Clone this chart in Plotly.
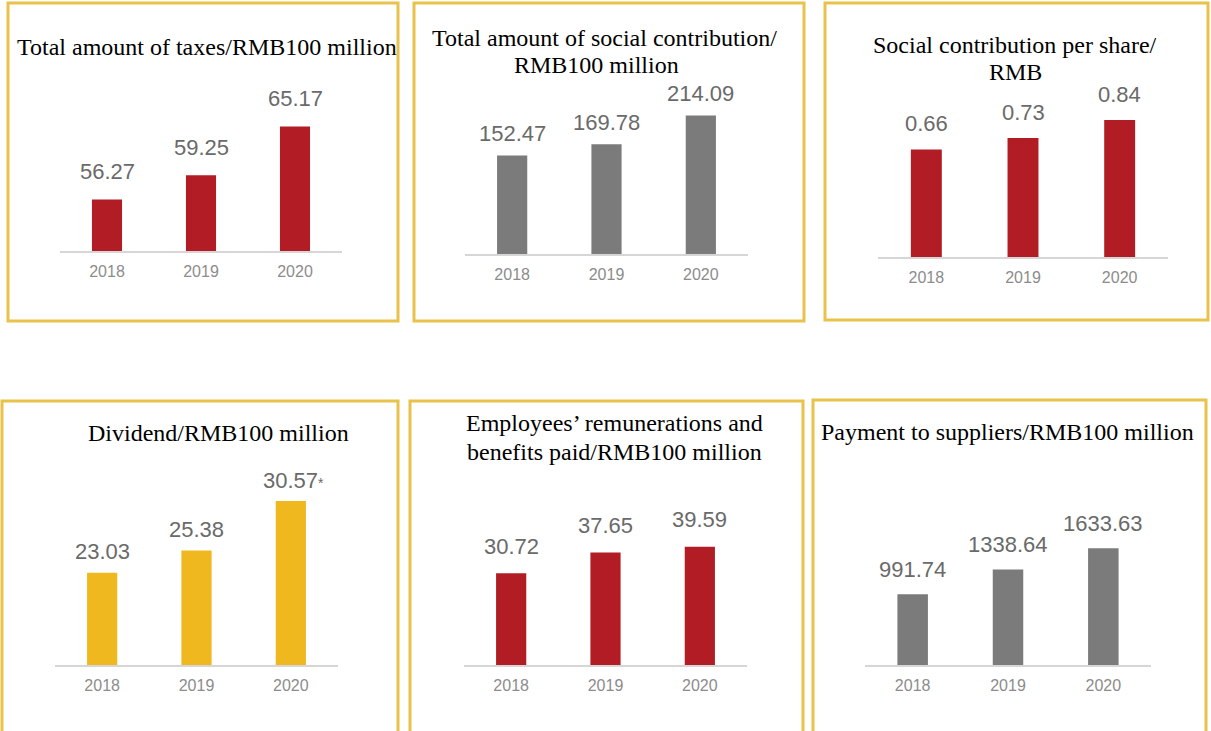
import plotly.graph_objects as go

# ---- data -------------------------------------------------------------
years = ["2018", "2019", "2020"]

taxes = [56.27, 59.25, 65.17]                 # RMB100 million
social_total = [152.47, 169.78, 214.09]       # RMB100 million
social_per_share = [0.66, 0.73, 0.84]         # RMB
dividend = [23.03, 25.38, 30.57]              # RMB100 million
remuneration = [30.72, 37.65, 39.59]          # RMB100 million
supplier_payment = [991.74, 1338.64, 1633.63] # RMB100 million

dividend_notes = ["", "", "*"]

titles = [
    ["Total amount of taxes/RMB100 million"],
    ["Total amount of social contribution/", "RMB100 million"],
    ["Social contribution per share/", "RMB"],
    ["Dividend/RMB100 million"],
    ["Employees\u2019 remunerations and", "benefits paid/RMB100 million"],
    ["Payment to suppliers/RMB100 million"],
]

# ---- styling ------------------------------------------------------------
W, H = 1211, 731
RED = "#B21C24"
GREY = "#7B7B7B"
GOLD = "#EFB81E"
FRAME = "#E8C24A"
LABEL = "#6A6A6A"
TICK = "#8C8C8C"
BASE = "#D6D6D6"
SERIF = "Liberation Serif, Times New Roman, serif"
SANS = "Liberation Sans, Arial, sans-serif"


def px(x):
    return x / W


def py(y):
    return 1 - y / H


# panel geometry in pixels: plot x-span, baseline, axis floor, px per unit,
# frame box, title line centres, label offset
panels = [
    dict(values=taxes, notes=None, color=RED, x0=60, x1=342, yb=251, yt=80,
         floor=50, scale=8.2, frame=(8, 3, 398, 321),
         title_pos=[(207, 47)], shift=28),
    dict(values=social_total, notes=None, color=GREY, x0=465, x1=748, yb=254, yt=80,
         floor=0, scale=0.6468, frame=(414, 3, 804, 321),
         title_pos=[(604, 38), (596, 65)], shift=22),
    dict(values=social_per_share, notes=None, color=RED, x0=878, x1=1168, yb=257, yt=80,
         floor=0, scale=163, frame=(825, 3, 1208, 320),
         title_pos=[(1015, 45), (1015, 72)], shift=26),
    dict(values=dividend, notes=dividend_notes, color=GOLD, x0=55, x1=338, yb=665, yt=480,
         floor=13.35, scale=9.52, frame=(2, 401, 398, 740),
         title_pos=[(218, 433)], shift=21),
    dict(values=remuneration, notes=None, color=RED, x0=464, x1=747, yb=665, yt=480,
         floor=0, scale=2.99, frame=(410, 401, 803, 740),
         title_pos=[(615, 423), (615, 452)], shift=27),
    dict(values=supplier_payment, notes=None, color=GREY, x0=865, x1=1151, yb=665, yt=480,
         floor=0, scale=0.0714, frame=(813, 400, 1206, 740),
         title_pos=[(1007, 432)], shift=25),
]

fig = go.Figure()
annotations = []
shapes = []
layout_axes = {}

for i, p in enumerate(panels):
    n = i + 1
    xa = "x" if n == 1 else f"x{n}"
    ya = "y" if n == 1 else f"y{n}"
    xkey = "xaxis" if n == 1 else f"xaxis{n}"
    ykey = "yaxis" if n == 1 else f"yaxis{n}"

    fig.add_trace(go.Bar(
        x=years, y=p["values"], xaxis=xa, yaxis=ya,
        marker=dict(color=p["color"], line=dict(width=0)),
        width=0.32, showlegend=False, hoverinfo="x+y",
    ))

    top = p["floor"] + (p["yb"] - p["yt"]) / p["scale"]
    layout_axes[xkey] = dict(
        domain=[px(p["x0"]), px(p["x1"])], anchor=ya, type="category",
        range=[-0.5, 2.5], showline=True, linecolor=BASE, linewidth=2,
        showgrid=False, zeroline=False, ticks="outside", ticklen=5,
        tickcolor="rgba(0,0,0,0)", tickfont=dict(family=SANS, size=16, color=TICK),
        fixedrange=True,
    )
    layout_axes[ykey] = dict(
        domain=[py(p["yb"]), py(p["yt"])], anchor=xa, range=[p["floor"], top],
        showline=False, showticklabels=False, ticks="", showgrid=False,
        zeroline=False, fixedrange=True,
    )

    # value labels above bars
    for j, (yr, v) in enumerate(zip(years, p["values"])):
        text = f"{v:.2f}"
        xshift = 0
        if p["notes"] and p["notes"][j]:
            text += f"<span style='font-size:14px'>{p['notes'][j]}</span>"
            xshift = 3
        annotations.append(dict(
            x=j, y=v, xref=xa, yref=ya, text=text, showarrow=False,
            xanchor="center", yanchor="middle", yshift=p["shift"], xshift=xshift,
            font=dict(family=SANS, size=22, color=LABEL),
        ))

    # panel title
    for line, (cx, cy) in zip(titles[i], p["title_pos"]):
        annotations.append(dict(
            x=px(cx), y=py(cy), xref="paper", yref="paper", text=line,
            showarrow=False, xanchor="center", yanchor="middle",
            font=dict(family=SERIF, size=24, color="black"),
        ))

    # gold frame
    fx0, fy0, fx1, fy1 = p["frame"]
    shapes.append(dict(
        type="rect", xref="paper", yref="paper",
        x0=px(fx0), x1=px(fx1), y0=py(fy1), y1=py(fy0),
        line=dict(color=FRAME, width=3), fillcolor="rgba(0,0,0,0)", layer="above",
    ))

fig.update_layout(
    width=W, height=H, margin=dict(l=0, r=0, t=0, b=0),
    paper_bgcolor="white", plot_bgcolor="white",
    annotations=annotations, shapes=shapes, bargap=0.2,
    **layout_axes,
)

fig.write_html("out.html", config={"displayModeBar": False})
